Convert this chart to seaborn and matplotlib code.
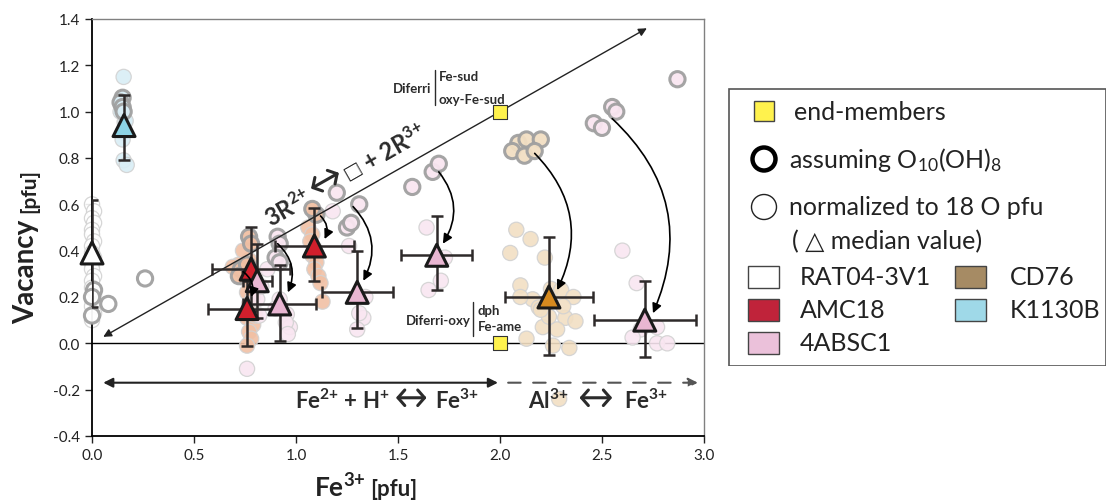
import pandas as pd
import matplotlib.pyplot as plt
import matplotlib.patches as mpatches
import seaborn as sns
import numpy as np

# samples and colours
samples = ["RAT04-3V1", "AMC18", "4ABSC1", "CD76", "K1130B"]
legend_colors = ["#FFFFFF", "#C0233A", "#EBC1DA", "#A68B64", "#9FD9E8"]
dot_colors = ["#FFFFFF", "#F1C0A4", "#F9E6F1", "#F2DFC3", "#D9EEF6"]
tri_colors = ["#FFFFFF", "#D11F2C", "#E9B6D2", "#D68A1F", "#8DD3E5"]

# normalized to 18 O pfu (thin circles)
rat_x = [0.0, 0.01, 0.0, 0.01, 0.0, 0.0, 0.01, 0.0, 0.0, 0.01, 0.0, 0.0, 0.01, 0.0, 0.0, 0.01, 0.0, 0.0, 0.01, 0.0]
rat_y = [0.60, 0.57, 0.54, 0.52, 0.49, 0.47, 0.44, 0.42, 0.39, 0.37, 0.34, 0.32, 0.29, 0.27, 0.24, 0.21, 0.19, 0.16, 0.13, 0.10]
amc_x = [0.72, 0.74, 0.75, 0.77, 0.78, 0.76, 0.79, 0.77, 0.78, 0.76, 0.79, 0.77, 0.78, 0.76, 0.80, 0.81, 0.74, 0.80, 0.69,
         1.06, 1.08, 1.07, 1.09, 1.08, 1.10, 1.09, 1.11, 1.12, 1.13]
amc_y = [0.34, 0.31, 0.28, 0.36, 0.25, 0.22, 0.20, 0.17, 0.14, 0.11, 0.08, 0.05, 0.02, -0.01, 0.30, 0.26, 0.40, 0.12, 0.33,
         0.50, 0.47, 0.44, 0.41, 0.38, 0.35, 0.32, 0.29, 0.26, 0.18]
abs_x = [0.81, 0.83, 0.82, 0.76, 0.92, 0.90, 0.955, 0.97, 0.95, 0.96, 0.86, 1.18, 1.26, 1.34, 1.33, 1.31, 1.30,
         1.64, 1.73, 1.71, 1.65, 2.60, 2.67, 2.69, 2.65, 2.77, 2.77, 2.82]
abs_y = [0.19, 0.245, 0.12, -0.11, 0.19, 0.15, 0.125, 0.07, 0.09, 0.04, 0.32, 0.57, 0.42, 0.20, 0.11, 0.13, 0.06,
         0.50, 0.37, 0.27, 0.23, 0.40, 0.26, 0.06, 0.025, 0.07, 0.0, 0.0]
cd_x = [2.08, 2.15, 2.05, 2.22, 2.10, 2.16, 2.19, 2.25, 2.30, 2.36, 2.32, 2.37, 2.28, 2.21, 2.13, 2.26, 2.34, 2.24,
        2.20, 2.10, 2.31, 2.29]
cd_y = [0.49, 0.45, 0.39, 0.37, 0.25, 0.19, 0.155, 0.235, 0.23, 0.20, 0.11, 0.095, 0.06, 0.07, 0.02, -0.01, -0.02,
        0.115, 0.145, 0.20, 0.16, -0.24]
k_x = [0.155, 0.15, 0.16, 0.165, 0.15, 0.15, 0.155, 0.17, 0.14]
k_y = [1.15, 1.06, 0.955, 0.96, 0.91, 0.88, 0.79, 0.77, 1.00]

# assuming O10(OH)8 (thick grey circles)
rat_x8 = [0.01, 0.0, 0.0, 0.08, 0.26]
rat_y8 = [0.23, 0.20, 0.12, 0.17, 0.28]
amc_x8 = [0.77, 0.78, 0.73, 0.72, 0.76, 1.10, 1.08]
amc_y8 = [0.46, 0.43, 0.32, 0.29, 0.34, 0.555, 0.58]
abs_x8 = [0.91, 0.92, 0.90, 0.92, 1.20, 1.25, 1.27, 1.31, 1.57, 1.67, 1.70, 2.46, 2.50, 2.55, 2.57, 2.87]
abs_y8 = [0.46, 0.43, 0.37, 0.35, 0.65, 0.50, 0.52, 0.60, 0.675, 0.74, 0.775, 0.95, 0.93, 1.02, 1.00, 1.14]
cd_x8 = [2.09, 2.13, 2.20, 2.06, 2.12, 2.17]
cd_y8 = [0.865, 0.88, 0.88, 0.83, 0.81, 0.83]
k_x8 = [0.15, 0.14, 0.15, 0.155]
k_y8 = [1.06, 1.04, 1.02, 1.00]

# median values with spread
med_sample = ["RAT04-3V1", "K1130B", "AMC18", "4ABSC1", "AMC18", "AMC18", "4ABSC1", "4ABSC1", "4ABSC1", "CD76", "4ABSC1"]
med_x = [0.0, 0.157, 0.78, 0.81, 0.76, 1.09, 0.92, 1.30, 1.69, 2.24, 2.71]
med_y = [0.39, 0.94, 0.32, 0.27, 0.15, 0.42, 0.17, 0.22, 0.38, 0.20, 0.10]
med_xerr = [0.0, 0.0, 0.19, 0.07, 0.19, 0.195, 0.18, 0.175, 0.175, 0.215, 0.25]
med_ylo = [0.235, 0.15, 0.18, 0.16, 0.16, 0.15, 0.16, 0.155, 0.15, 0.25, 0.16]
med_yhi = [0.23, 0.13, 0.18, 0.16, 0.16, 0.165, 0.17, 0.18, 0.17, 0.26, 0.17]

# end-members
end_x = [2.0, 2.0]
end_y = [1.0, 0.0]

# arrows from O10(OH)8 values to medians
arrow_start = [(0.74, 0.31), (0.91, 0.43), (1.12, 0.55), (1.28, 0.59), (1.70, 0.74), (2.17, 0.82), (2.55, 0.97)]
arrow_end = [(0.78, 0.20), (0.96, 0.22), (1.14, 0.45), (1.33, 0.27), (1.72, 0.43), (2.28, 0.23), (2.75, 0.13)]


def frame(xs, ys, name):
    return pd.DataFrame({"x": xs, "y": ys, "sample": name})


norm_df = pd.concat([frame(rat_x, rat_y, "RAT04-3V1"), frame(amc_x, amc_y, "AMC18"),
                     frame(abs_x, abs_y, "4ABSC1"), frame(cd_x, cd_y, "CD76"), frame(k_x, k_y, "K1130B")])
oh_df = pd.concat([frame(rat_x8, rat_y8, "RAT04-3V1"), frame(amc_x8, amc_y8, "AMC18"),
                   frame(abs_x8, abs_y8, "4ABSC1"), frame(cd_x8, cd_y8, "CD76"), frame(k_x8, k_y8, "K1130B")])
med_df = pd.DataFrame({"x": med_x, "y": med_y, "sample": med_sample})

dot_pal = dict(zip(samples, dot_colors))
tri_pal = dict(zip(samples, tri_colors))

sns.set_style("ticks")
plt.rcParams["font.family"] = ["Lato", "DejaVu Sans"]
plt.rcParams["mathtext.default"] = "regular"

fig = plt.figure(figsize=(11.06, 5.02), dpi=100)
ax = fig.add_axes([0.0832, 0.1295, 0.5533, 0.8307])

sns.scatterplot(data=norm_df, x="x", y="y", hue="sample", palette=dot_pal, s=120,
                edgecolor="#D2D2D2", linewidth=0.9, alpha=0.9, legend=False, ax=ax, clip_on=False, zorder=2)
sns.scatterplot(data=oh_df, x="x", y="y", hue="sample", palette=dot_pal, s=120,
                edgecolor="#A0A0A0", linewidth=2.2, alpha=0.95, legend=False, ax=ax, clip_on=False, zorder=3)

ax.errorbar(med_x, med_y, xerr=med_xerr, yerr=[med_ylo, med_yhi], fmt="none", ecolor="#2E2A2A",
            elinewidth=1.8, capsize=4, capthick=1.8, zorder=4)
sns.scatterplot(data=med_df, x="x", y="y", hue="sample", palette=tri_pal, marker="^", s=250,
                edgecolor="#1A1A1A", linewidth=2.2, legend=False, ax=ax, clip_on=False, zorder=5)

ax.scatter(end_x, end_y, marker="s", s=90, color="#FFF24D", edgecolor="#333333", linewidth=0.8, zorder=6)

for s0, e0 in zip(arrow_start, arrow_end):
    ax.annotate("", xy=e0, xytext=s0, zorder=6,
                arrowprops=dict(arrowstyle="-|>", connectionstyle="arc3,rad=-0.35", color="black",
                                lw=1.2, mutation_scale=14, shrinkA=0, shrinkB=0))

# exchange vectors
ax.axhline(0, color="black", lw=1, zorder=1)
ax.annotate("", xy=(0.055, 0.028), xytext=(2.72, 1.36),
            arrowprops=dict(arrowstyle="<|-|>", color="#222222", lw=1, mutation_scale=12, shrinkA=0, shrinkB=0))
ax.annotate("", xy=(0.055, -0.17), xytext=(1.99, -0.17),
            arrowprops=dict(arrowstyle="<|-|>", color="#222222", lw=1.5, mutation_scale=14, shrinkA=0, shrinkB=0))
ax.annotate("", xy=(2.97, -0.17), xytext=(2.04, -0.17),
            arrowprops=dict(arrowstyle="-|>", color="#555555", lw=1.5, ls=(0, (6, 6)), mutation_scale=14,
                            shrinkA=0, shrinkB=0))

txt = dict(color="#2B2B2B", fontweight="bold")
swap = dict(arrowstyle="<->,head_length=0.35,head_width=0.4", color="#2B2B2B", lw=2.2,
            mutation_scale=14, shrinkA=0, shrinkB=0)

# Fe2+ + H+ <-> Fe3+  and  Al3+ <-> Fe3+
ax.text(1.46, -0.245, "Fe$^{2{+}}$ + H$^{+}$", ha="right", va="center", fontsize=16, **txt)
ax.annotate("", xy=(1.49, -0.235), xytext=(1.64, -0.235), arrowprops=swap)
ax.text(1.68, -0.245, "Fe$^{3{+}}$", ha="left", va="center", fontsize=16, **txt)
ax.text(2.335, -0.245, "Al$^{3{+}}$", ha="right", va="center", fontsize=16, **txt)
ax.annotate("", xy=(2.39, -0.235), xytext=(2.55, -0.235), arrowprops=swap)
ax.text(2.61, -0.245, "Fe$^{3{+}}$", ha="left", va="center", fontsize=16, **txt)

# 3R2+ <-> vacancy + 2R3+ along the oxidation line
ang = 29.7
cx, cy = 1.142, 0.69
ux, uy = np.cos(np.radians(ang)) / 204, np.sin(np.radians(ang)) / 232.5
rot = dict(rotation=ang, rotation_mode="anchor", va="center_baseline", color="#2B2B2B")
ax.text(cx - 19 * ux, cy - 19 * uy, "3R$^{2{+}}$", ha="right", fontsize=17, fontweight="bold", **rot)
ax.annotate("", xy=(cx - 16 * ux, cy - 16 * uy + 0.012), xytext=(cx + 16 * ux, cy + 16 * uy + 0.012),
            arrowprops=swap)
ax.text(cx + 31 * ux, cy + 31 * uy, "□", ha="center", family="DejaVu Sans", fontsize=14, **rot)
ax.text(cx + 44 * ux, cy + 44 * uy, "+ 2R$^{3{+}}$", ha="left", fontsize=17, fontweight="bold", **rot)

ax.text(1.665, 1.10, "Diferri", ha="right", va="center", fontsize=9.5, **txt)
ax.plot([1.68, 1.68], [1.03, 1.18], color="#2B2B2B", lw=1)
ax.text(1.70, 1.155, "Fe-sud", ha="left", va="center", fontsize=9.5, **txt)
ax.text(1.70, 1.055, "oxy-Fe-sud", ha="left", va="center", fontsize=9.5, **txt)
ax.text(1.855, 0.10, "Diferri-oxy", ha="right", va="center", fontsize=9.5, **txt)
ax.plot([1.87, 1.87], [0.03, 0.18], color="#2B2B2B", lw=1)
ax.text(1.89, 0.145, "dph", ha="left", va="center", fontsize=9.5, **txt)
ax.text(1.89, 0.075, "Fe-ame", ha="left", va="center", fontsize=9.5, **txt)

ax.set_xlim(0, 3)
ax.set_ylim(-0.4, 1.4)
ax.set_xticks(np.arange(0, 3.01, 0.5))
ax.set_yticks(np.arange(-0.4, 1.41, 0.2))
ax.xaxis.set_major_formatter(plt.FormatStrFormatter("%.1f"))
ax.yaxis.set_major_formatter(plt.FormatStrFormatter("%.1f"))
ax.tick_params(labelsize=11, length=5, width=1, colors="#222222")
ax.set_xlabel("")
ax.set_ylabel("")
for side in ["left", "bottom"]:
    ax.spines[side].set_color("black")
    ax.spines[side].set_linewidth(1.3)
for side in ["top", "right"]:
    ax.spines[side].set_visible(True)
    ax.spines[side].set_color("#808080")
    ax.spines[side].set_linewidth(1)

fig.text(0.307, 0.03, "Fe$^{3{+}}$", ha="center", va="center", fontsize=19, fontweight="bold", color="#222222")
fig.text(0.356, 0.024, "[pfu]", ha="center", va="center", fontsize=16, fontweight="bold", color="#222222")
fig.text(0.024, 0.458, "Vacancy", ha="center", va="center", rotation=90, fontsize=20, fontweight="bold", color="#222222")
fig.text(0.026, 0.62, "[pfu]", ha="center", va="center", rotation=90, fontsize=15, fontweight="bold", color="#222222")

# legend panel
lg = fig.add_axes([728 / 1106, (502 - 367) / 502, 378 / 1106, 278 / 502])
lg.set_xlim(0, 378)
lg.set_ylim(278, 0)
lg.axis("off")
lg.add_patch(mpatches.Rectangle((0.5, 0.5), 377, 277, fill=False, edgecolor="#555555", lw=1.2))
lfs = 18
lg.add_patch(mpatches.Rectangle((26, 13), 20, 20, facecolor="#FFF24D", edgecolor="#444444", lw=1))
lg.text(66, 24, "end-members", va="center", fontsize=lfs, color="#222222")
lg.add_patch(mpatches.Circle((36, 71), 11.5, fill=False, edgecolor="black", lw=3.2))
lg.text(61, 71, "assuming O$_{10}$(OH)$_8$", va="center", fontsize=lfs, color="#222222")
lg.add_patch(mpatches.Circle((36, 119), 12.5, fill=False, edgecolor="#222222", lw=1))
lg.text(61, 119, "normalized to 18 O pfu", va="center", fontsize=lfs, color="#222222")
lg.text(64, 153, "( △ median value)", va="center", fontsize=lfs, color="#222222")
rows = [(20, 189), (20, 222), (20, 255), (227, 189), (227, 222)]
labels_x = [72, 72, 72, 282, 282]
for (px, py), lx, name, col in zip(rows, labels_x, samples, legend_colors):
    lg.add_patch(mpatches.Rectangle((px, py - 11), 31, 22, facecolor=col, edgecolor="#444444", lw=1))
    lg.text(lx, py, name, va="center", fontsize=lfs, color="#222222")

fig.savefig("out.png", dpi=100)
